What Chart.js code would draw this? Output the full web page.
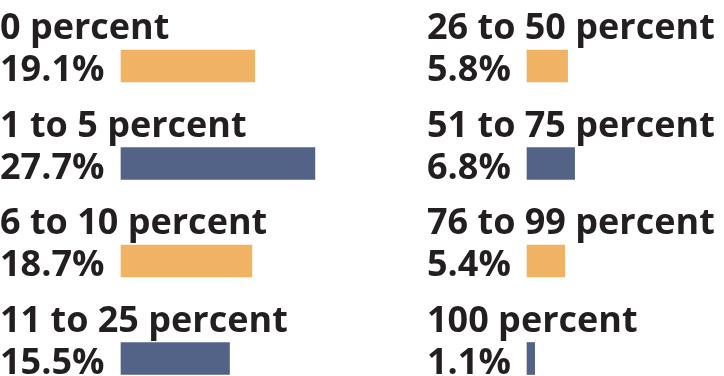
<!DOCTYPE html>
<html>
<head>
<meta charset="utf-8">
<script src="https://cdn.jsdelivr.net/npm/chart.js@4"></script>
<style>
  html, body { margin: 0; padding: 0; background: #fff; }
  .wrap { position: relative; width: 724px; height: 376px; }
  .col { position: absolute; top: 0; width: 362px; height: 376px; }
</style>
</head>
<body>
<div class="wrap">
  <div class="col" style="left:0"><canvas id="leftChart" width="362" height="376"></canvas></div>
  <div class="col" style="left:362px"><canvas id="rightChart" width="362" height="376"></canvas></div>
</div>
<script>
const leftCategories = ['0 percent', '1 to 5 percent', '6 to 10 percent', '11 to 25 percent'];
const leftValues = [19.1, 27.7, 18.7, 15.5];
const rightCategories = ['26 to 50 percent', '51 to 75 percent', '76 to 99 percent', '100 percent'];
const rightValues = [5.8, 6.8, 5.4, 1.1];
const barColors = ['#F0B263', '#536387', '#F0B263', '#536387'];

const textColor = '#231F20';
const textFont = 'bold 36px "Open Sans"';

// draws the category name above each bar and the value to its left
const barLabels = {
    id: 'barLabels',
    afterDatasetsDraw(chart, args, opts) {
        const ctx = chart.ctx;
        const meta = chart.getDatasetMeta(0);
        const values = chart.data.datasets[0].data;
        ctx.save();
        ctx.font = textFont;
        ctx.fillStyle = textColor;
        ctx.textAlign = 'left';
        ctx.textBaseline = 'alphabetic';
        meta.data.forEach((bar, i) => {
            ctx.fillText(chart.data.labels[i], opts.textX, bar.y - 27);
            ctx.fillText(values[i].toFixed(1) + '%', opts.textX, bar.y + 15);
        });
        ctx.restore();
    }
};

function makeChart(id, labels, values, xMax, padLeft, padRight, textX) {
    const ctx = document.getElementById(id).getContext('2d');
    return new Chart(ctx, {
        type: 'bar',
        data: {
            labels: labels,
            datasets: [{
                data: values,
                backgroundColor: barColors,
                borderWidth: 0,
                barThickness: 32,
                clip: false
            }]
        },
        options: {
            indexAxis: 'y',
            responsive: false,
            animation: false,
            layout: {
                padding: { left: padLeft, right: padRight, top: 66, bottom: 17.5 }
            },
            plugins: {
                legend: { display: false },
                tooltip: { enabled: false },
                barLabels: { textX: textX }
            },
            scales: {
                x: { min: 0, max: xMax, display: false },
                y: { offset: false, display: false, grid: { display: false } }
            }
        },
        plugins: [barLabels]
    });
}

makeChart('leftChart', leftCategories, leftValues, 30, 121, 31, 0);
makeChart('rightChart', rightCategories, rightValues, 25, 165, 22, 65);
</script>
</body>
</html>
